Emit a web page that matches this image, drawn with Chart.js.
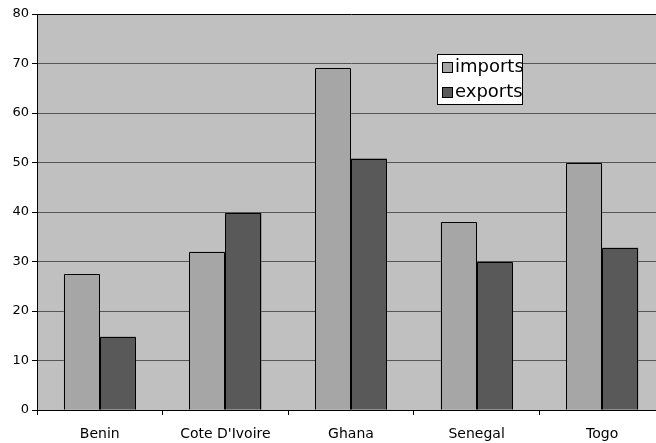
<!DOCTYPE html>
<html>
<head>
<meta charset="utf-8">
<script src="https://cdn.jsdelivr.net/npm/chart.js@4/dist/chart.umd.min.js"></script>
<style>
html,body{margin:0;padding:0;background:#fff;overflow:hidden;}
#wrap{position:absolute;left:0;top:0;width:670px;height:443px;}
</style>
</head>
<body>
<div id="wrap"><canvas id="c" width="670" height="443"></canvas></div>
<script>
const categories = ["Benin", "Cote D'Ivoire", "Ghana", "Senegal", "Togo"];
const imports = [27.5, 32, 69, 38, 49.8];
const exports_ = [14.8, 39.8, 50.8, 29.8, 32.8];
const seriesNames = ["imports", "exports"];
const yTicks = [0, 10, 20, 30, 40, 50, 60, 70, 80];

const FONT = "'DejaVu Sans', Verdana, sans-serif";

const barBorders = {
  id: 'barBorders',
  afterDatasetsDraw(chart) {
    const ctx = chart.ctx;
    ctx.save();
    ctx.strokeStyle = '#000';
    ctx.lineWidth = 1;
    chart.data.datasets.forEach((ds, i) => {
      const meta = chart.getDatasetMeta(i);
      meta.data.forEach(el => {
        const p = el.getProps(['x', 'y', 'base', 'width'], true);
        const l = Math.round(p.x - p.width / 2) + 0.5;
        const r = Math.round(p.x + p.width / 2) - 0.5;
        const t = Math.round(p.y) + 0.5;
        const b = Math.round(p.base) - 0.5;
        ctx.beginPath();
        ctx.moveTo(l, b); ctx.lineTo(l, t); ctx.lineTo(r, t); ctx.lineTo(r, b);
        ctx.stroke();
      });
    });
    ctx.restore();
  }
};

const legendBox = {
  id: 'legendBox',
  afterDatasetsDraw(chart) {
    const ctx = chart.ctx;
    const x = 437.5, y = 54.5, w = 85, h = 50;
    ctx.save();
    ctx.fillStyle = '#fff';
    ctx.fillRect(x, y, w, h);
    ctx.strokeStyle = '#000';
    ctx.lineWidth = 1;
    ctx.strokeRect(x, y, w, h);
    ctx.beginPath(); ctx.rect(x, y, w, h); ctx.clip();
    chart.data.datasets.forEach((ds, i) => {
      const sy = 62.5 + i * 25;
      ctx.fillStyle = ds.backgroundColor;
      ctx.fillRect(442.5, sy, 10, 10);
      ctx.strokeStyle = '#000';
      ctx.strokeRect(442.5, sy, 10, 10);
      ctx.fillStyle = '#000';
      ctx.font = '18px ' + FONT;
      ctx.textBaseline = 'middle';
      ctx.textAlign = 'left';
      ctx.fillText(ds.label, 455, sy + 5);
    });
    ctx.restore();
  }
};

new Chart(document.getElementById('c'), {
  type: 'bar',
  data: {
    labels: categories,
    datasets: [
      { label: seriesNames[0], data: imports, backgroundColor: '#a6a6a6', borderWidth: 0 },
      { label: seriesNames[1], data: exports_, backgroundColor: '#595959', borderWidth: 0 }
    ]
  },
  options: {
    responsive: false,
    animation: false,
    devicePixelRatio: 1,
    categoryPercentage: 0.573,
    barPercentage: 1,
    layout: { padding: { top: 14, right: 5, left: 0, bottom: 0 } },
    plugins: { legend: { display: false }, tooltip: { enabled: false } },
    scales: {
      x: {
        offset: true,
        grid: { offset: true, drawOnChartArea: false, color: '#000', tickLength: 5 },
        border: { color: '#000' },
        ticks: { color: '#000', font: { family: FONT, size: 14 }, padding: 11, maxRotation: 0, autoSkip: false },
        afterFit(s) { s.height = 33; }
      },
      y: {
        min: 0, max: 80,
        afterBuildTicks(s) { s.ticks = yTicks.map(v => ({ value: v })); },
        grid: { color: c => (c.tick && c.tick.value === 80 ? '#000' : '#555'), tickColor: '#000', tickLength: 5, lineWidth: 1 },
        border: { color: '#000' },
        ticks: { color: '#000', font: { family: FONT, size: 13 }, padding: 3 },
        afterFit(s) { s.width = 37; }
      }
    }
  },
  plugins: [
    {
      id: 'plotBg',
      beforeDraw(chart) {
        const a = chart.chartArea, ctx = chart.ctx;
        ctx.save();
        ctx.fillStyle = '#c0c0c0';
        ctx.fillRect(a.left, a.top, a.right - a.left, a.bottom - a.top);
        ctx.restore();
      }
    },
    barBorders,
    legendBox
  ]
});
</script>
</body>
</html>
